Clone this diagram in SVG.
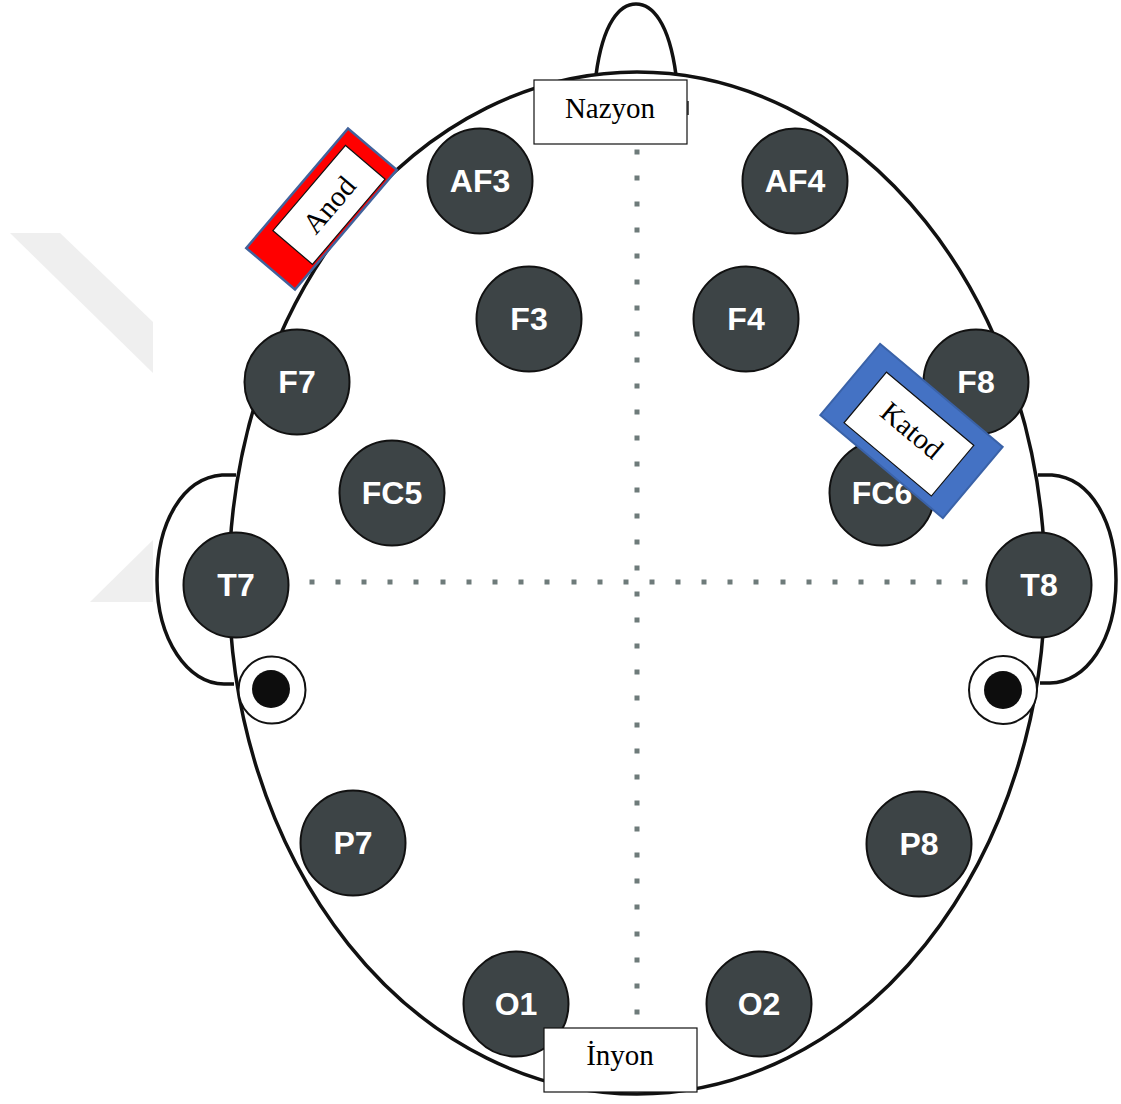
<svg xmlns="http://www.w3.org/2000/svg" width="1121" height="1104" viewBox="0 0 1121 1104">
  <style>
    .outline { fill: none; stroke: #111; stroke-width: 3.5; }
    .electrode circle { fill: #3d4446; stroke: #111; stroke-width: 2; }
    .electrode text { fill: #fff; font-family: "Liberation Sans", Arial, sans-serif; font-weight: bold; font-size: 32px; text-anchor: middle; }
    .label rect { fill: #fff; stroke: #111; stroke-width: 1.2; }
    .label text { fill: #000; font-family: "Liberation Serif", "Times New Roman", serif; font-size: 29px; text-anchor: middle; }
    .dots { fill: #6e7b7a; }
  </style>

  <!-- faint background mark -->
  <g id="backdrop" fill="#efefef">
    <polygon points="10,233 60,233 153,322 153,373"/>
    <polygon points="90,602 153,602 153,540"/>
  </g>

  <!-- head: ears, nose and scalp outline -->
  <g id="head">
    <path class="outline" d="M236,475 L222,475 C183,478 157,522 157,580 C157,640 188,684 224,684 L234,684"/>
    <path class="outline" d="M1038,475 L1052,475 C1091,478 1116,522 1116,580 C1116,640 1086,683 1050,683 L1040,683"/>
    <path class="outline" d="M596,75 C603,22 620,4 636,4 C652,4 669,22 676,75"/>
    <ellipse class="outline" cx="637" cy="583" rx="408" ry="511"/>
  </g>

  <!-- midline and ear-to-ear dotted axes -->
  <g id="connectors">
    <path class="dots" d="
      M634.5 149.5h5v5h-5z M634.5 175.5h5v5h-5z M634.5 201.5h5v5h-5z M634.5 227.5h5v5h-5z M634.5 253.5h5v5h-5z
      M634.5 279.5h5v5h-5z M634.5 305.5h5v5h-5z M634.5 331.5h5v5h-5z M634.5 357.5h5v5h-5z M634.5 383.5h5v5h-5z
      M634.5 409.5h5v5h-5z M634.5 435.5h5v5h-5z M634.5 461.5h5v5h-5z M634.5 487.5h5v5h-5z M634.5 513.5h5v5h-5z
      M634.5 539.5h5v5h-5z M634.5 565.5h5v5h-5z
      M634.5 591.5h5v5h-5z M634.5 617.5h5v5h-5z M634.5 643.5h5v5h-5z M634.5 669.5h5v5h-5z M634.5 695.5h5v5h-5z
      M634.5 722.5h5v5h-5z M634.5 748.5h5v5h-5z M634.5 774.5h5v5h-5z M634.5 800.5h5v5h-5z M634.5 826.5h5v5h-5z
      M634.5 852.5h5v5h-5z M634.5 878.5h5v5h-5z M634.5 904.5h5v5h-5z M634.5 931.5h5v5h-5z M634.5 957.5h5v5h-5z
      M634.5 983.5h5v5h-5z M634.5 1009.5h5v5h-5z
      M309.5 579.5h5v5h-5z M335.5 579.5h5v5h-5z M361.5 579.5h5v5h-5z M387.5 579.5h5v5h-5z M413.5 579.5h5v5h-5z
      M440.5 579.5h5v5h-5z M466.5 579.5h5v5h-5z M492.5 579.5h5v5h-5z M518.5 579.5h5v5h-5z M544.5 579.5h5v5h-5z
      M571.5 579.5h5v5h-5z M597.5 579.5h5v5h-5z M623.5 579.5h5v5h-5z
      M649.5 579.5h5v5h-5z M675.5 579.5h5v5h-5z M701.5 579.5h5v5h-5z M727.5 579.5h5v5h-5z M753.5 579.5h5v5h-5z
      M780.5 579.5h5v5h-5z M806.5 579.5h5v5h-5z M832.5 579.5h5v5h-5z M858.5 579.5h5v5h-5z M884.5 579.5h5v5h-5z
      M910.5 579.5h5v5h-5z M936.5 579.5h5v5h-5z M962.5 579.5h5v5h-5z"/>
  </g>

  <!-- electrodes -->
  <g id="AF3" class="electrode"><circle cx="480" cy="181" r="52.5"/><text x="480" y="192">AF3</text></g>
  <g id="AF4" class="electrode"><circle cx="795" cy="181" r="52.5"/><text x="795" y="192">AF4</text></g>
  <g id="F3" class="electrode"><circle cx="529" cy="319" r="52.5"/><text x="529" y="330">F3</text></g>
  <g id="F4" class="electrode"><circle cx="746" cy="319" r="52.5"/><text x="746" y="330">F4</text></g>
  <g id="F7" class="electrode"><circle cx="297" cy="382" r="52.5"/><text x="297" y="393">F7</text></g>
  <g id="F8" class="electrode"><circle cx="976" cy="382" r="52.5"/><text x="976" y="393">F8</text></g>
  <g id="FC5" class="electrode"><circle cx="392" cy="493" r="52.5"/><text x="392" y="504">FC5</text></g>
  <g id="FC6" class="electrode"><circle cx="882" cy="493" r="52.5"/><text x="882" y="504">FC6</text></g>
  <g id="T7" class="electrode"><circle cx="236" cy="585" r="52.5"/><text x="236" y="596">T7</text></g>
  <g id="T8" class="electrode"><circle cx="1039" cy="585" r="52.5"/><text x="1039" y="596">T8</text></g>
  <g id="P7" class="electrode"><circle cx="353" cy="843" r="52.5"/><text x="353" y="854">P7</text></g>
  <g id="P8" class="electrode"><circle cx="919" cy="844" r="52.5"/><text x="919" y="855">P8</text></g>
  <g id="O1" class="electrode"><circle cx="516" cy="1004" r="52.5"/><text x="516" y="1015">O1</text></g>
  <g id="O2" class="electrode"><circle cx="759" cy="1004" r="52.5"/><text x="759" y="1015">O2</text></g>

  <!-- ear reference points -->
  <g id="ear-left">
    <circle cx="272" cy="690" r="33.5" fill="#fff" stroke="#111" stroke-width="2"/>
    <circle cx="271" cy="689" r="19" fill="#0d0d0d"/>
  </g>
  <g id="ear-right">
    <circle cx="1003" cy="690" r="34" fill="#fff" stroke="#111" stroke-width="2"/>
    <circle cx="1003" cy="690" r="19" fill="#0d0d0d"/>
  </g>

  <!-- landmark labels -->
  <g id="nazyon" class="label">
    <line x1="688" y1="101" x2="688" y2="115" stroke="#222" stroke-width="1.5"/>
    <rect x="534" y="80" width="153" height="64"/>
    <text x="610" y="118">Nazyon</text>
  </g>
  <g id="inyon" class="label">
    <rect x="544" y="1028" width="153" height="64"/>
    <text x="620" y="1065">İnyon</text>
  </g>

  <!-- stimulation pads -->
  <g id="anod" class="label" transform="translate(321.5,209) rotate(-49.6)">
    <rect x="-78.5" y="-32" width="157" height="64" style="fill:#ff0000;stroke:#41629c;stroke-width:2.5"/>
    <rect x="-48" y="-23" width="112" height="52"/>
    <text x="8" y="13" font-size="32">Anod</text>
  </g>
  <g id="katod" class="label" transform="translate(911.5,431) rotate(40)">
    <rect x="-80" y="-46.5" width="160" height="93" style="fill:#4472c4;stroke:#3a62a8;stroke-width:2"/>
    <rect x="-57" y="-29" width="114" height="66"/>
    <text x="0" y="9" font-size="31">Katod</text>
  </g>
</svg>
